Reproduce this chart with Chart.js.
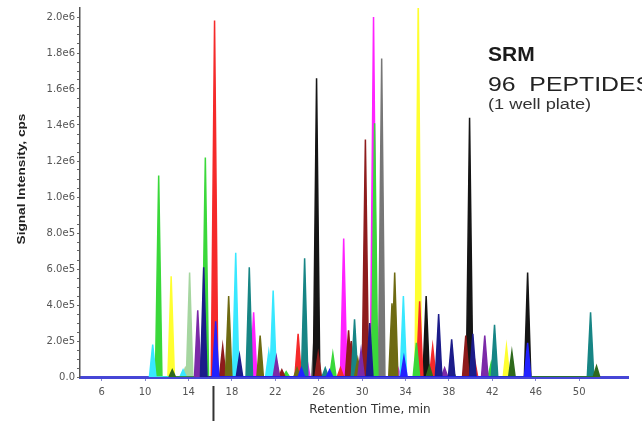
<!DOCTYPE html>
<html>
<head>
<meta charset="utf-8">
<script src="https://cdn.jsdelivr.net/npm/chart.js@4/dist/chart.umd.min.js"></script>
<style>
  body { margin: 0; background: #fff; }
  #wrap { width: 642px; height: 421px; }
</style>
</head>
<body>
<div id="wrap"><canvas id="chart" width="642" height="421"></canvas></div>
<script>
// peak apexes: [retention time (min), intensity (cps)]
const bluePeaks = [[16.5, 0.31e6], [33.85, 0.11e6], [45.25, 0.19e6], [27.0, 0.04e6], [24.4, 0.05e6]];
const navyPeaks = [[15.4, 0.61e6], [18.7, 0.12e6], [37.05, 0.35e6], [38.25, 0.21e6], [40.2, 0.24e6], [30.7, 0.3e6]];
const purplePeaks = [[14.85, 0.37e6], [22.1, 0.11e6], [41.3, 0.23e6], [29.9, 0.15e6], [37.6, 0.05e6]];
const darkGreenPeaks = [[12.5, 0.04e6], [38.3, 0.05e6], [43.8, 0.14e6], [51.6, 0.06e6], [36.2, 0.06e6]];
const olivePeaks = [[17.7, 0.45e6], [20.6, 0.23e6], [32.75, 0.41e6], [33.0, 0.58e6], [24.0, 0.05e6], [29.6, 0.1e6]];
const tealPeaks = [[19.6, 0.61e6], [24.7, 0.66e6], [29.3, 0.32e6], [42.2, 0.29e6], [51.05, 0.36e6], [26.6, 0.05e6]];
const cyanPeaks = [[10.7, 0.18e6], [13.5, 0.04e6], [18.35, 0.69e6], [21.4, 0.14e6], [21.8, 0.48e6], [33.8, 0.45e6]];
const darkRedPeaks = [[17.15, 0.17e6], [22.6, 0.04e6], [25.95, 0.13e6], [29.0, 0.2e6], [30.3, 1.32e6], [39.55, 0.23e6], [28.75, 0.26e6]];
const paleGreenPeaks = [[14.1, 0.58e6], [13.7, 0.05e6]];
const greenPeaks = [[11.25, 1.12e6], [15.55, 1.22e6], [27.3, 0.13e6], [31.15, 1.41e6], [35.0, 0.19e6], [23.0, 0.03e6], [41.9, 0.08e6]];
const redPeaks = [[16.4, 1.98e6], [24.1, 0.24e6], [28.0, 0.05e6], [35.3, 0.42e6], [36.5, 0.17e6], [40.35, 0.1e6]];
const magentaPeaks = [[20.0, 0.36e6], [24.9, 0.1e6], [28.3, 0.77e6], [31.05, 2.0e6], [33.3, 0.05e6], [42.1, 0.06e6]];
const blackPeaks = [[25.8, 1.66e6], [35.9, 0.45e6], [39.9, 1.44e6], [45.25, 0.58e6]];
const grayPeaks = [[31.8, 1.77e6], [25.65, 0.3e6]];
const yellowPeaks = [[12.4, 0.56e6], [22.2, 0.05e6], [35.17, 2.1e6], [43.3, 0.17e6]];

const xTickValues = [6, 10, 14, 18, 22, 26, 30, 34, 38, 42, 46, 50];
const yTickLabels = ["0.0", "2.0e5", "4.0e5", "6.0e5", "8.0e5", "1.0e6", "1.2e6", "1.4e6", "1.6e6", "1.8e6", "2.0e6"];

const halfWidth = 0.3;

// each apex becomes a narrow triangle sitting on the baseline
function toTrace(peaks) {
  const pts = [];
  peaks.slice().sort((a, b) => a[0] - b[0]).forEach(([t, h]) => {
    pts.push({ x: t - halfWidth, y: 0 }, { x: t, y: h }, { x: t + halfWidth, y: 0 });
  });
  return pts;
}

function trace(peaks, color) {
  return {
    data: toTrace(peaks),
    borderColor: color,
    backgroundColor: color,
    borderWidth: 1.5,
    fill: "origin",
    pointRadius: 0,
    tension: 0,
  };
}

// first dataset is painted on top
const datasets = [
  trace(bluePeaks, "#2222ff"),
  trace(navyPeaks, "#1c1c8a"),
  trace(purplePeaks, "#7b2aa8"),
  trace(darkGreenPeaks, "#2f6a1c"),
  trace(olivePeaks, "#6e6a12"),
  trace(tealPeaks, "#178585"),
  trace(cyanPeaks, "#38e8ff"),
  trace(darkRedPeaks, "#8e1c1c"),
  trace(paleGreenPeaks, "#a6d6a0"),
  trace(greenPeaks, "#3ad83a"),
  trace(redPeaks, "#f52a2a"),
  trace(magentaPeaks, "#ff22ff"),
  trace(blackPeaks, "#151515"),
  trace(grayPeaks, "#777777"),
  trace(yellowPeaks, "#ffff30"),
];

const textPlugin = {
  id: "texts",
  afterDraw(chart) {
    const ctx = chart.ctx;
    const x = chart.scales.x;
    ctx.save();
    ctx.textBaseline = "alphabetic";
    ctx.textAlign = "left";

    ctx.fillStyle = "#1a1a1a";
    ctx.font = "bold 21px 'Liberation Sans', Arial";
    ctx.fillText("SRM", 488, 61);

    ctx.save();
    ctx.translate(488, 91);
    ctx.scale(1.24, 1);
    ctx.font = "20px 'Liberation Sans', Arial";
    ctx.fillStyle = "#222";
    ctx.fillText("96  PEPTIDES", 0, 0);
    ctx.restore();

    ctx.save();
    ctx.translate(488, 109);
    ctx.scale(1.3, 1);
    ctx.font = "14px 'Liberation Sans', Arial";
    ctx.fillStyle = "#333";
    ctx.fillText("(1 well plate)", 0, 0);
    ctx.restore();

    // axis titles
    ctx.textAlign = "center";
    ctx.textBaseline = "middle";
    ctx.font = "12px 'DejaVu Sans'";
    ctx.fillStyle = "#333";
    ctx.fillText("Retention Time, min", 370, 410);

    ctx.save();
    ctx.translate(22, 179);
    ctx.rotate(-Math.PI / 2);
    ctx.scale(1.24, 1);
    ctx.font = "bold 11px 'Liberation Sans', Arial";
    ctx.fillStyle = "#222";
    ctx.fillText("Signal Intensity, cps", 0, 0);
    ctx.restore();

    // injection marker below the axis
    const px = x.getPixelForValue(16.3);
    ctx.strokeStyle = "#333";
    ctx.lineWidth = 2;
    ctx.beginPath();
    ctx.moveTo(px, 386);
    ctx.lineTo(px, 421);
    ctx.stroke();
    ctx.restore();
  },
};

new Chart(document.getElementById("chart"), {
  type: "line",
  data: { datasets },
  plugins: [textPlugin],
  options: {
    responsive: false,
    animation: false,
    layout: { padding: { left: 0, top: 8, right: 14, bottom: 0 } },
    plugins: { legend: { display: false }, tooltip: { enabled: false } },
    scales: {
      x: {
        type: "linear",
        min: 4,
        max: 54.5,
        z: 1,
        afterBuildTicks: (scale) => {
          scale.ticks = xTickValues.map((v) => ({ value: v }));
        },
        afterFit: (scale) => { scale.height = 44; },
        ticks: {
          autoSkip: false,
          maxRotation: 0,
          padding: 5,
          color: "#555",
          font: { family: "DejaVu Sans", size: 10 },
          callback: (v) => String(v),
        },
        grid: { drawOnChartArea: false, tickLength: 4, color: "#8888cc" },
        border: { color: "#4646d6", width: 3 },
      },
      y: {
        min: 0,
        max: 2.05e6,
        afterBuildTicks: (scale) => {
          const ticks = [];
          for (let i = 0; i < yTickLabels.length * 4 - 3; i++) ticks.push({ value: i * 0.05e6 });
          scale.ticks = ticks;
        },
        afterFit: (scale) => { scale.width = 80; },
        ticks: {
          autoSkip: false,
          padding: 2,
          color: "#555",
          font: { family: "DejaVu Sans", size: 10 },
          callback: (v, i) => (i % 4 === 0 ? yTickLabels[i / 4] : ""),
        },
        grid: { drawOnChartArea: false, tickLength: 3, color: "#666" },
        border: { color: "#555", width: 1.5 },
      },
    },
  },
});
</script>
</body>
</html>
